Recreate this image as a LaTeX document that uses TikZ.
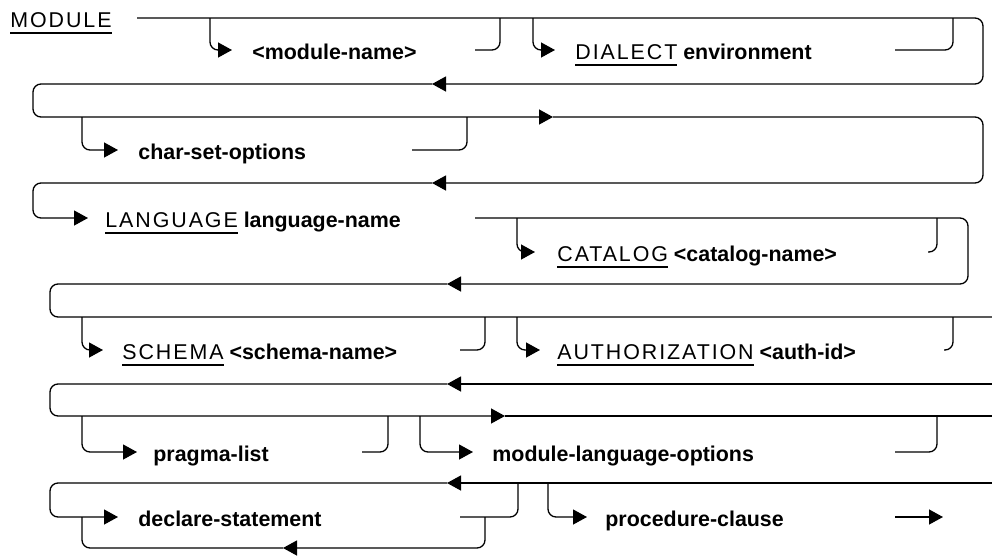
\documentclass[tikz,border=0pt]{standalone}
\usepackage{fontspec}
\setmainfont{Liberation Sans}
\newfontfamily\kwfont[LetterSpace=9]{Liberation Sans}
\usetikzlibrary{arrows.meta}
\tikzset{
  track/.style={line width=0.65pt, rounded corners=4pt},
  tip/.style={-{Triangle[length=7pt,width=7.5pt]}},
  term/.style={anchor=base west, inner sep=0pt, font=\fontsize{10.7}{12}\selectfont\bfseries},
}
\newcommand\kwd[1]{\setbox0\hbox{\kwfont\mdseries #1}\rlap{\rule[-3.3pt]{\wd0}{0.7pt}}\box0\relax}
\begin{document}
\begin{tikzpicture}[x=0.5pt, y=-0.5pt]
  \useasboundingbox (0,0) rectangle (992,558);
  % terms
  \node[term] (module) at (10,27) {\kwd{MODULE}};
  \node[term] (mname) at (252,59) {<module-name>};
  \node[term] (dialect) at (575,59) {\kwd{DIALECT} environment};
  \node[term] (charset) at (138,159) {char-set-options};
  \node[term] (language) at (105,227) {\kwd{LANGUAGE} language-name};
  \node[term] (catalog) at (557,261) {\kwd{CATALOG} <catalog-name>};
  \node[term] (schema) at (122,359) {\kwd{SCHEMA} <schema-name>};
  \node[term] (auth) at (557,359) {\kwd{AUTHORIZATION} <auth-id>};
  \node[term] (pragma) at (153,461) {pragma-list};
  \node[term] (mlopts) at (492,461) {module-language-options};
  \node[term] (declare) at (138,526) {declare-statement};
  \node[term] (proc) at (605,526) {procedure-clause};

  % main track
  \draw[track,tip] (137,18) -- (983,18) -- (983,84) -- (432,84);
  \draw[track,tip] (432,84) -- (33,84) -- (33,117) -- (553,117);
  \draw[track,tip] (553,117) -- (983,117) -- (983,183) -- (432,183);
  \draw[track,tip] (432,183) -- (33,183) -- (33,218) -- (88,218);
  \draw[track,tip] (475,218) -- (968,218) -- (968,284) -- (447,284);
  \draw[track] (447,284) -- (50,284) -- (50,317) -- (992,317);
  \draw[track,tip] (992,384) -- (447,384);
  \draw[track,tip] (447,384) -- (50,384) -- (50,416) -- (505,416);
  \draw[track] (505,416) -- (992,416);
  \draw[track,tip] (992,483) -- (447,483);
  \draw[track,tip] (447,483) -- (50,483) -- (50,517) -- (118,517);

  % optional branches
  \draw[track,tip] (210,18) -- (210,50) -- (232,50);
  \draw[track] (475,50) -- (500,50) -- (500,18);
  \draw[track,tip] (533,18) -- (533,50) -- (555,50);
  \draw[track] (895,50) -- (953,50) -- (953,18);
  \draw[track,tip] (82,117) -- (82,150) -- (118,150);
  \draw[track] (412,150) -- (467,150) -- (467,117);
  \draw[track,tip] (517,218) -- (517,252) -- (535,252);
  \draw[track] (928,252) -- (937,252) -- (937,218);
  \draw[track,tip] (82,317) -- (82,350) -- (103,350);
  \draw[track] (460,350) -- (485,350) -- (485,317);
  \draw[track,tip] (517,317) -- (517,350) -- (540,350);
  \draw[track] (944,350) -- (953,350) -- (953,317);
  \draw[track,tip] (82,416) -- (82,452) -- (137,452);
  \draw[track] (362,452) -- (388,452) -- (388,416);
  \draw[track,tip] (420,416) -- (420,452) -- (473,452);
  \draw[track] (895,452) -- (937,452) -- (937,416);

  % declare loop and end
  \draw[track,tip] (485,517) -- (485,548) -- (283,548);
  \draw[track] (283,548) -- (82,548) -- (82,517);
  \draw[track] (460,517) -- (518,517) -- (518,483);
  \draw[track,tip] (548,483) -- (548,517) -- (587,517);
  \draw[track,tip] (895,517) -- (943,517);
\end{tikzpicture}
\end{document}
